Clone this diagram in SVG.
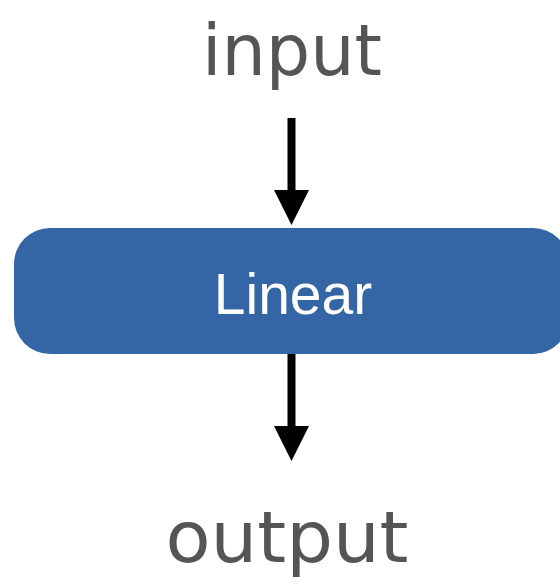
<svg xmlns="http://www.w3.org/2000/svg" width="560" height="584" viewBox="0 0 560 584">
<style>
.lbl{font-family:"Comic Sans MS","DejaVu Sans",sans-serif;font-size:72px;fill:#555555;text-anchor:middle}
.node{fill:#3465A4}
.ntext{font-family:"Liberation Sans",Arial,sans-serif;font-size:57px;fill:#ffffff;text-anchor:middle}
.edge{stroke:#000;stroke-width:8;fill:none}
.head{fill:#000}
</style>
<rect width="560" height="584" fill="#ffffff"/>
<g id="input">
<text class="lbl" x="292" y="75" textLength="180" lengthAdjust="spacingAndGlyphs">input</text>
</g>
<g id="linear">
<rect class="node" x="14" y="228" width="555" height="126" rx="36" ry="36"/>
<text class="ntext" x="293" y="314">Linear</text>
</g>
<g id="output">
<text class="lbl" x="287" y="562" textLength="243" lengthAdjust="spacingAndGlyphs">output</text>
</g>
<g id="connectors">
<line class="edge" x1="291.5" y1="118" x2="291.5" y2="192"/>
<polygon class="head" points="274,190 309,190 291.5,225"/>
<line class="edge" x1="291.5" y1="354" x2="291.5" y2="428"/>
<polygon class="head" points="274,426 309,426 291.5,461"/>
</g>
</svg>
